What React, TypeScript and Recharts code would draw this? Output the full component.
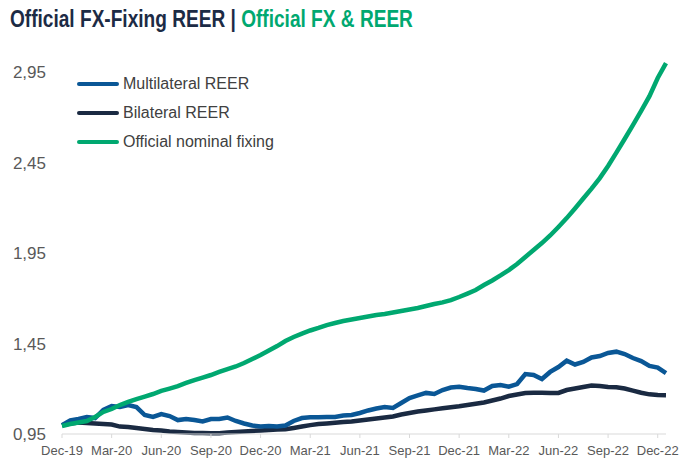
import { LineChart, Line, XAxis, YAxis } from "recharts"

// half-month steps from Dec-19 to early Jan-23
const quarterLabels = [
  "Dec-19", "Mar-20", "Jun-20", "Sep-20", "Dec-20", "Mar-21", "Jun-21",
  "Sep-21", "Dec-21", "Mar-22", "Jun-22", "Sep-22", "Dec-22",
]
const yTicks = [0.95, 1.45, 1.95, 2.45, 2.95]

const multilateral = [
  0.999, 1.025, 1.033, 1.044, 1.038, 1.083, 1.105, 1.099, 1.11, 1.099,
  1.055, 1.044, 1.06, 1.049, 1.027, 1.033, 1.027, 1.019, 1.033, 1.033,
  1.041, 1.022, 1.008, 0.997, 0.991, 0.994, 0.991, 0.997, 1.022, 1.038,
  1.042, 1.042, 1.044, 1.044, 1.052, 1.055, 1.066, 1.08, 1.091, 1.099,
  1.094, 1.121, 1.149, 1.163, 1.177, 1.171, 1.193, 1.207, 1.211, 1.204,
  1.199, 1.19, 1.215, 1.221, 1.212, 1.226, 1.281, 1.276, 1.254, 1.293,
  1.32, 1.355, 1.334, 1.348, 1.373, 1.381, 1.398, 1.405, 1.392, 1.37,
  1.353, 1.326, 1.317, 1.287,
]

const bilateral = [
  0.999, 1.008, 1.014, 1.011, 1.008, 1.005, 1.002, 0.991, 0.989, 0.983,
  0.978, 0.972, 0.969, 0.964, 0.961, 0.958, 0.956, 0.956, 0.954, 0.954,
  0.958, 0.961, 0.964, 0.967, 0.969, 0.972, 0.975, 0.976, 0.983, 0.991,
  0.999, 1.005, 1.008, 1.012, 1.016, 1.019, 1.025, 1.03, 1.036, 1.041,
  1.047, 1.058, 1.066, 1.074, 1.08, 1.086, 1.092, 1.098, 1.103, 1.11,
  1.117, 1.124, 1.135, 1.146, 1.16, 1.168, 1.177, 1.178, 1.178, 1.177,
  1.177, 1.193, 1.201, 1.21, 1.218, 1.215, 1.21, 1.208, 1.201, 1.19,
  1.178, 1.169, 1.165, 1.164,
]

const officialFixing = [
  0.994, 1.005, 1.014, 1.022, 1.044, 1.072, 1.088, 1.11, 1.127, 1.143,
  1.157, 1.171, 1.188, 1.201, 1.215, 1.232, 1.248, 1.262, 1.276, 1.293,
  1.309, 1.323, 1.342, 1.364, 1.386, 1.411, 1.436, 1.464, 1.486, 1.505,
  1.522, 1.536, 1.552, 1.563, 1.574, 1.583, 1.591, 1.599, 1.607, 1.613,
  1.621, 1.63, 1.638, 1.646, 1.657, 1.668, 1.677, 1.69, 1.707, 1.726,
  1.746, 1.773, 1.798, 1.826, 1.856, 1.889, 1.928, 1.967, 2.005, 2.047,
  2.094, 2.143, 2.196, 2.251, 2.306, 2.364, 2.431, 2.505, 2.58, 2.657,
  2.735, 2.817, 2.917, 2.999,
]

const data = officialFixing.map((v, i) => ({
  t: i,
  multilateral: multilateral[i],
  bilateral: bilateral[i],
  official: v,
}))

const legendItems = [
  { name: "Multilateral REER", color: "#0a5796" },
  { name: "Bilateral REER", color: "#1a2a42" },
  { name: "Official nominal fixing", color: "#00a870" },
]

const font = "'Liberation Sans', Arial, sans-serif"

export default function App() {
  return (
    <div style={{ position: "absolute", left: 0, top: 0, width: 687, height: 460, background: "#fff", fontFamily: font }}>
      <LineChart width={687} height={460} data={data} margin={{ top: 63, right: 21, bottom: 0, left: 0 }}>
        <XAxis
          type="number"
          dataKey="t"
          domain={[0, 73]}
          ticks={quarterLabels.map((_, k) => k * 6)}
          tickFormatter={(v) => quarterLabels[Math.round(v / 6)]}
          interval={0}
          height={26}
          axisLine={{ stroke: "#d9d9d9" }}
          tickLine={{ stroke: "#d9d9d9" }}
          tickSize={4}
          tickMargin={8}
          tick={{ fontSize: 13, fill: "#595959", fontFamily: font }}
        />
        <YAxis
          type="number"
          domain={[0.95, 3.0]}
          ticks={yTicks}
          width={62}
          axisLine={false}
          tickLine={false}
          tickSize={0}
          tickMargin={16}
          tickFormatter={(v) => v.toFixed(2).replace(".", ",")}
          tick={{ fontSize: 17, fill: "#595959", fontFamily: font }}
        />
        <Line dataKey="bilateral" stroke="#1a2a42" strokeWidth={4.5} dot={false} isAnimationActive={false} />
        <Line dataKey="multilateral" stroke="#0a5796" strokeWidth={4.5} dot={false} isAnimationActive={false} />
        <Line dataKey="official" stroke="#00a870" strokeWidth={4.5} dot={false} isAnimationActive={false} />
      </LineChart>

      {/* title: condensed bold, squeezed horizontally */}
      <div
        style={{
          position: "absolute",
          left: 10,
          top: 6.7,
          fontSize: 24,
          lineHeight: "24px",
          fontWeight: "bold",
          whiteSpace: "nowrap",
          transform: "scaleX(0.795)",
          transformOrigin: "left top",
        }}
      >
        <span style={{ color: "#1c2b45" }}>Official FX-Fixing REER | </span>
        <span style={{ color: "#00a870" }}>Official FX &amp; REER</span>
      </div>

      <div style={{ position: "absolute", left: 77, top: 69.5 }}>
        {legendItems.map((it) => (
          <div key={it.name} style={{ display: "flex", alignItems: "center", height: 29 }}>
            <div style={{ width: 42, height: 4.5, borderRadius: 3, background: it.color, marginRight: 4 }} />
            <span style={{ fontSize: 16, color: "#404040" }}>{it.name}</span>
          </div>
        ))}
      </div>
    </div>
  )
}
